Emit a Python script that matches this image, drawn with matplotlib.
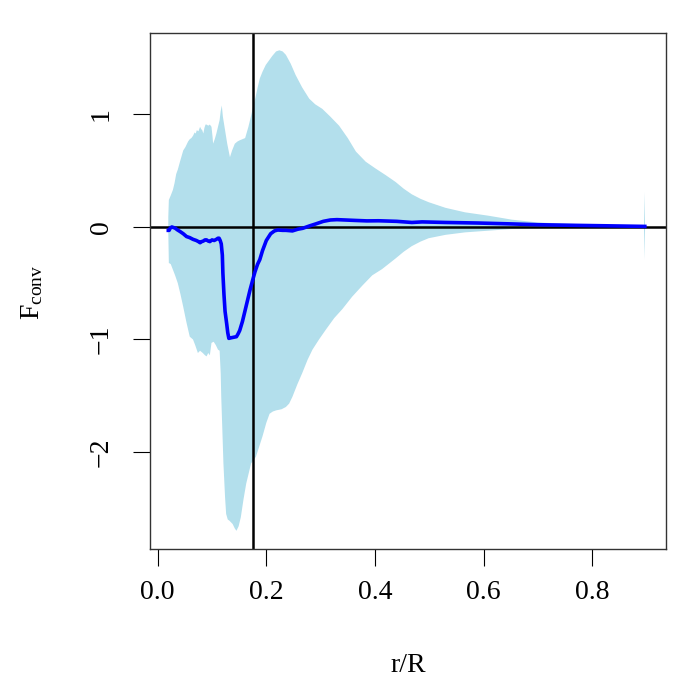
import numpy as np
import matplotlib
matplotlib.use("Agg")
import matplotlib.pyplot as plt

plt.rcParams['font.family'] = ['Liberation Serif', 'DejaVu Serif']
plt.rcParams['mathtext.fontset'] = 'custom'
plt.rcParams['mathtext.rm'] = 'Liberation Serif'
plt.rcParams['mathtext.it'] = 'Liberation Serif:italic'

# upper edge of the shaded band
r_up = [0.0195, 0.0205, 0.024, 0.028, 0.031, 0.034, 0.037, 0.041, 0.047, 0.051,
        0.056, 0.059, 0.062, 0.065, 0.068, 0.070, 0.072, 0.075, 0.078, 0.080,
        0.082, 0.084, 0.086, 0.088, 0.090, 0.093, 0.096, 0.099, 0.101, 0.102,
        0.105, 0.108, 0.111, 0.114, 0.116, 0.118, 0.120, 0.124, 0.128, 0.133,
        0.137, 0.142, 0.147, 0.151, 0.156, 0.161, 0.164, 0.167, 0.170, 0.173,
        0.176, 0.180, 0.184, 0.188, 0.193, 0.199, 0.205, 0.211, 0.218, 0.224,
        0.230, 0.236, 0.245, 0.254, 0.266, 0.279, 0.290, 0.303, 0.318, 0.334,
        0.350, 0.365, 0.383, 0.401, 0.420, 0.438, 0.453, 0.468, 0.484, 0.499,
        0.530, 0.566, 0.609, 0.652, 0.700, 0.750, 0.805, 0.850, 0.8955, 0.8965,
        0.8975]
f_up = [0.09, 0.24, 0.28, 0.33, 0.39, 0.47, 0.51, 0.58, 0.68, 0.71,
        0.76, 0.78, 0.79, 0.81, 0.84, 0.83, 0.86, 0.85, 0.89, 0.87,
        0.86, 0.83, 0.88, 0.91, 0.91, 0.90, 0.91, 0.89, 0.80, 0.74,
        0.78, 0.83, 0.89, 0.95, 1.03, 1.08, 0.98, 0.86, 0.74, 0.62,
        0.68, 0.74, 0.76, 0.77, 0.78, 0.79, 0.84, 0.89, 0.95, 1.01,
        1.08, 1.15, 1.24, 1.32, 1.38, 1.44, 1.48, 1.52, 1.56, 1.57,
        1.56, 1.53, 1.45, 1.35, 1.24, 1.14, 1.09, 1.05, 0.98, 0.90,
        0.79, 0.67, 0.58, 0.52, 0.46, 0.40, 0.34, 0.29, 0.25, 0.22,
        0.17, 0.13, 0.10, 0.065, 0.04, 0.03, 0.02, 0.015, 0.01, 0.31,
        0.0]

# lower edge of the shaded band
r_lo = [0.0195, 0.0205, 0.024, 0.028, 0.032, 0.037, 0.042, 0.047, 0.053, 0.059,
        0.065, 0.069, 0.074, 0.078, 0.083, 0.087, 0.090, 0.093, 0.096, 0.099,
        0.103, 0.107, 0.111, 0.114, 0.116, 0.117, 0.119, 0.121, 0.124, 0.126,
        0.129, 0.132, 0.138, 0.142, 0.145, 0.149, 0.153, 0.158, 0.163, 0.168,
        0.172, 0.177, 0.181, 0.187, 0.193, 0.200, 0.206, 0.212, 0.218, 0.228,
        0.236, 0.242, 0.248, 0.257, 0.266, 0.276, 0.285, 0.297, 0.310, 0.325,
        0.340, 0.358, 0.377, 0.395, 0.413, 0.438, 0.453, 0.468, 0.484, 0.499,
        0.530, 0.566, 0.609, 0.652, 0.700, 0.750, 0.805, 0.8955, 0.8965, 0.8975]
f_lo = [-0.05, -0.32, -0.33, -0.38, -0.43, -0.50, -0.60, -0.71, -0.85, -0.975,
        -1.00, -1.05, -1.12, -1.10, -1.12, -1.14, -1.15, -1.12, -1.14, -1.03,
        -1.02, -1.05, -1.09, -1.10, -1.30, -1.51, -1.80, -2.10, -2.40, -2.55,
        -2.60, -2.61, -2.64, -2.68, -2.70, -2.66, -2.58, -2.42, -2.28, -2.18,
        -2.10, -2.07, -2.04, -1.95, -1.86, -1.74, -1.66, -1.64, -1.63, -1.62,
        -1.60, -1.57, -1.51, -1.40, -1.30, -1.18, -1.09, -1.00, -0.91, -0.81,
        -0.73, -0.62, -0.52, -0.43, -0.375, -0.28, -0.22, -0.17, -0.13, -0.10,
        -0.07, -0.048, -0.033, -0.018, -0.012, -0.008, -0.005, -0.003, -0.29, 0.0]

# mean profile
r_mean = [0.0195, 0.0210, 0.023, 0.026, 0.029, 0.032, 0.036, 0.041, 0.047, 0.053,
          0.059, 0.065, 0.071, 0.075, 0.078, 0.081, 0.084, 0.087, 0.090, 0.093,
          0.096, 0.100, 0.104, 0.108, 0.111, 0.113, 0.115, 0.117, 0.119, 0.120,
          0.122, 0.124, 0.127, 0.129, 0.131, 0.135, 0.140, 0.145, 0.148, 0.151,
          0.156, 0.161, 0.166, 0.170, 0.175, 0.179, 0.184, 0.188, 0.193, 0.200,
          0.208, 0.215, 0.221, 0.230, 0.236, 0.248, 0.258, 0.267, 0.280, 0.291,
          0.305, 0.318, 0.330, 0.345, 0.364, 0.385, 0.407, 0.440, 0.468, 0.487,
          0.530, 0.590, 0.652, 0.700, 0.760, 0.830, 0.897]
f_mean = [-0.03, -0.03, -0.01, 0.00, -0.005, -0.01, -0.025, -0.04, -0.06, -0.085,
          -0.095, -0.11, -0.12, -0.13, -0.14, -0.13, -0.125, -0.115, -0.115, -0.125,
          -0.13, -0.115, -0.12, -0.11, -0.10, -0.10, -0.12, -0.15, -0.25, -0.41,
          -0.60, -0.75, -0.86, -0.94, -0.99, -0.985, -0.98, -0.975, -0.95, -0.92,
          -0.84, -0.74, -0.64, -0.56, -0.47, -0.40, -0.33, -0.29, -0.21, -0.12,
          -0.06, -0.035, -0.027, -0.03, -0.03, -0.035, -0.02, -0.012, 0.01, 0.027,
          0.05, 0.062, 0.065, 0.062, 0.058, 0.054, 0.055, 0.05, 0.04, 0.045,
          0.04, 0.035, 0.027, 0.02, 0.015, 0.01, 0.005]

r_mark = 0.1755
x_ticks = [0.0, 0.2, 0.4, 0.6, 0.8]
y_ticks = [-2, -1, 0, 1]

fig = plt.figure(figsize=(7, 7), dpi=100)
ax = fig.add_axes([0.2143, 0.2157, 0.7371, 0.7372])

poly_x = np.concatenate([r_up, r_lo[::-1]])
poly_y = np.concatenate([f_up, f_lo[::-1]])
ax.fill(poly_x, poly_y, color='#B3DFEC', lw=0, zorder=1)

ax.axhline(0, color='black', lw=1.8, zorder=2)
ax.axvline(r_mark, color='black', lw=1.8, zorder=2)
ax.plot(r_mean, f_mean, color='blue', lw=2.6, zorder=3)

ax.set_xlim(-0.0142, 0.936)
ax.set_ylim(-2.862, 1.724)
ax.set_xticks(x_ticks)
ax.set_xticklabels(['0.0', '0.2', '0.4', '0.6', '0.8'])
ax.set_yticks(y_ticks)
ax.set_yticklabels(['\u22122', '\u22121', '0', '1'], rotation=90, va='center')
ax.tick_params(length=12, width=0.8, labelsize=20)
ax.tick_params(axis='x', pad=10)
ax.tick_params(axis='y', pad=14)
for sp in ax.spines.values():
    sp.set_linewidth(1.0)
    sp.set_color('#333333')

fig.text(0.583, 0.05, 'r/R', ha='center', va='center', fontsize=20)
fig.text(0.046, 0.583, r'$\mathrm{F_{conv}}$', ha='center', va='center',
         rotation=90, fontsize=20)

fig.savefig('out.png', dpi=100)
